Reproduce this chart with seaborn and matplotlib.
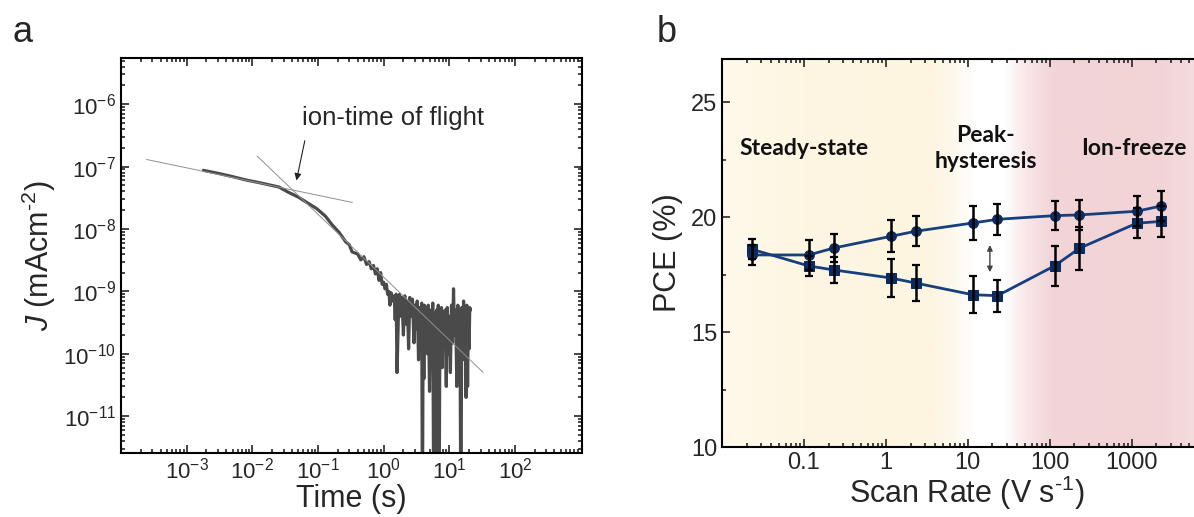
import numpy as np
import pandas as pd
import matplotlib
matplotlib.use("Agg")
import matplotlib.pyplot as plt
import matplotlib.ticker as mticker
import seaborn as sns

# ---------------- data ----------------
# panel a: transient current
time_s = [1.8e-3, 3.0e-3, 5.0e-3, 8.0e-3, 0.013, 0.0255, 0.035, 0.05, 0.07, 0.095, 0.13, 0.166, 0.21,
          0.265, 0.30, 0.33, 0.37, 0.40, 0.45, 0.50, 0.55, 0.60, 0.65, 0.70, 0.75, 0.80, 0.85, 0.90, 0.95,
          1.0, 1.05, 1.1, 1.15, 1.2, 1.25, 1.3, 1.38, 1.45, 1.5, 1.55, 1.6, 1.7, 1.75, 1.8, 1.9, 2.0,
          2.1, 2.2, 2.3, 2.4, 2.5, 2.6, 2.75, 2.9, 3.0, 3.1, 3.25, 3.4, 3.5, 3.65, 3.8, 3.9, 4.0,
          4.1, 4.2, 4.35, 4.5, 4.65, 4.8, 5.0, 5.2, 5.4, 5.6, 5.8, 6.0, 6.2, 6.4, 6.6, 6.8, 7.0,
          7.2, 7.4, 7.6, 7.8, 8.0, 8.3, 8.6, 9.0, 9.3, 9.6, 10.0, 10.4, 10.8, 11.2, 11.6, 12.0,
          12.5, 13.0, 13.5, 14.0, 14.5, 15.0, 15.5, 16.0, 16.5, 17.0, 17.5, 18.0, 18.5, 19.0,
          19.5, 20.0, 20.5, 21.0]
current_J = [8.7e-8, 7.8e-8, 6.9e-8, 6.1e-8, 5.5e-8, 4.7e-8, 3.9e-8, 3.25e-8, 2.6e-8, 2.13e-8, 1.6e-8, 1.15e-8, 8.8e-9,
             6.2e-9, 5.6e-9, 4.3e-9, 4.1e-9, 4.0e-9, 3.2e-9, 3.6e-9, 2.7e-9, 3.0e-9, 2.3e-9, 2.6e-9, 1.9e-9, 2.3e-9, 1.5e-9, 2.0e-9, 1.3e-9,
             1.4e-9, 1.1e-9, 1.3e-9, 9e-10, 1.0e-9, 6e-10, 9.5e-10, 7e-10, 8.5e-10, 3.5e-10, 9e-10, 5e-11, 7e-10, 9e-10, 4e-10, 8e-10, 2e-10,
             8.5e-10, 3e-10, 7e-10, 1.2e-10, 8e-10, 4e-10, 7.5e-10, 1.5e-10, 6e-10, 2.5e-10, 7e-10, 8e-11, 5.5e-10, 3e-10, 6.5e-10, 2e-13, 5e-10,
             4e-11, 6e-10, 2e-10, 5.5e-10, 1e-10, 6e-10, 2.5e-11, 5e-10, 1.5e-10, 6.5e-10, 2e-13, 4.5e-10, 2e-13, 5e-10, 8e-11, 6e-10, 2e-13,
             4e-10, 1.2e-10, 5.5e-10, 6e-11, 4.5e-10, 1.5e-10, 5e-10, 3e-11, 5.5e-10, 1e-10, 4e-10, 5e-11, 6e-10, 1.5e-10, 1.1e-9, 2e-10,
             5e-10, 3e-11, 6e-10, 1e-10, 5e-10, 2e-13, 5.5e-10, 8e-11, 7e-10, 2e-10, 5e-10, 2e-11, 6e-10, 3e-11,
             5e-10, 1.2e-10, 5.5e-10, 5e-10]
fit1_t = [2.45e-4, 0.333]
fit1_J = [1.3e-7, 2.66e-8]
fit2_t = [0.0118, 33.0]
fit2_J = [1.48e-7, 5.0e-11]

# panel b: PCE vs scan rate
scan_rate = [0.023, 0.115, 0.23, 1.15, 2.3, 11.5, 23, 115, 230, 1150, 2300]
pce_circle = [18.35, 18.35, 18.65, 19.16, 19.38, 19.74, 19.9, 20.06, 20.09, 20.25, 20.48]
err_circle = [0.44, 0.65, 0.62, 0.7, 0.66, 0.73, 0.67, 0.64, 0.64, 0.65, 0.65]
pce_square = [18.6, 17.87, 17.7, 17.35, 17.13, 16.62, 16.58, 17.88, 18.64, 19.73, 19.81]
err_square = [0.44, 0.45, 0.58, 0.82, 0.8, 0.8, 0.7, 0.88, 0.93, 0.66, 0.67]
region_labels = ["Steady-state", "Peak-\nhysteresis", "Ion-freeze"]

# ---------------- style ----------------
sns.set_style("ticks")
plt.rcParams["font.family"] = ["Liberation Sans", "DejaVu Sans"]
plt.rcParams["mathtext.fontset"] = "custom"
plt.rcParams["mathtext.rm"] = "Liberation Sans"
plt.rcParams["mathtext.it"] = "Liberation Sans:italic"
plt.rcParams["mathtext.bf"] = "Liberation Sans:bold"
plt.rcParams["axes.linewidth"] = 1.5

W, H = 1194, 517
fig = plt.figure(figsize=(W / 100, H / 100), dpi=100)
fig.patch.set_facecolor("white")


def frac(l, r, t, b):
    return [l / W, 1 - b / H, (r - l) / W, (b - t) / H]


# ---------------- panel a ----------------
axa = fig.add_axes(frac(121, 582, 58, 453))
dfa = pd.DataFrame({"t": time_s, "J": current_J})
sns.lineplot(data=dfa, x="t", y="J", sort=False, estimator=None, ax=axa,
             color="#4a4a4a", lw=2.3, zorder=2)
sns.lineplot(x=fit1_t, y=fit1_J, ax=axa, color="#909090", lw=0.7, zorder=3)
sns.lineplot(x=fit2_t, y=fit2_J, ax=axa, color="#909090", lw=0.7, zorder=3)
axa.set_xscale("log")
axa.set_yscale("log")
axa.set_xlim(1e-4, 1.05e3)
axa.set_ylim(10 ** -11.59, 10 ** -5.26)
axa.xaxis.set_major_locator(mticker.FixedLocator([1e-3, 1e-2, 1e-1, 1, 10, 100]))
axa.xaxis.set_minor_locator(mticker.LogLocator(base=10, subs=np.arange(2, 10), numticks=20))
axa.yaxis.set_major_locator(mticker.FixedLocator([1e-11, 1e-10, 1e-9, 1e-8, 1e-7, 1e-6]))
axa.yaxis.set_minor_locator(mticker.LogLocator(base=10, subs=np.arange(2, 10), numticks=20))
axa.xaxis.set_major_formatter(mticker.LogFormatterMathtext())
axa.yaxis.set_major_formatter(mticker.LogFormatterMathtext())
axa.xaxis.set_minor_formatter(mticker.NullFormatter())
axa.yaxis.set_minor_formatter(mticker.NullFormatter())
axa.tick_params(which="both", direction="in", top=True, right=True, width=1.2, labelsize=16)
axa.tick_params(which="major", length=6)
axa.tick_params(which="minor", length=3)
axa.set_xlabel("Time (s)", fontsize=22, labelpad=0)
axa.set_ylabel(r"$J$ (mAcm$^{\text{-}2}$)", fontsize=22, labelpad=4)
axa.text(0.058, 5.97e-7, "ion-time of flight", fontsize=18.5, ha="left", va="center")
axa.annotate("", xy=(0.047, 6.0e-8), xytext=(0.063, 2.6e-7),
             arrowprops=dict(arrowstyle="-|>", color="#222222", lw=0.8, mutation_scale=10,
                             shrinkA=0, shrinkB=0))
for s in axa.spines.values():
    s.set_color("black")

# ---------------- panel b ----------------
axb = fig.add_axes(frac(722, 1212, 59, 447))
axb.set_xscale("log")

# background gradient (style only)
stops = [(-2.0, (254, 249, 234)), (-1.0, (253, 246, 226)), (0.5, (253, 245, 224)),
         (0.8, (253, 248, 235)), (1.1, (255, 255, 255)), (1.45, (255, 255, 255)),
         (1.75, (247, 228, 230)), (2.05, (242, 213, 216)), (3.3, (242, 211, 214)),
         (3.98, (246, 224, 226))]
xs = np.linspace(-2, 3.98, 600)
sp = np.array([p for p, _ in stops])
cols = np.array([c for _, c in stops], dtype=float) / 255
img = np.stack([np.interp(xs, sp, cols[:, k]) for k in range(3)], axis=-1)[None, :, :]
axb.imshow(img, extent=[0, 1, 0, 1], transform=axb.transAxes, aspect="auto", zorder=0)
axb.set_xlim(1e-2, 10 ** 3.98)
axb.set_ylim(10, 26.87)

navy_line = "#173F7C"
navy_mk = "#0B2C60"
sns.lineplot(x=scan_rate, y=pce_circle, ax=axb, color=navy_line, lw=2.0, marker="o",
             markersize=7, markerfacecolor=navy_mk, markeredgecolor=navy_mk, zorder=3)
sns.lineplot(x=scan_rate, y=pce_square, ax=axb, color=navy_line, lw=2.0, marker="s",
             markersize=6.5, markerfacecolor=navy_mk, markeredgecolor=navy_mk, zorder=3)
axb.errorbar(scan_rate, pce_circle, yerr=err_circle, fmt="none", ecolor="black",
             elinewidth=1.8, capsize=3, capthick=1.6, zorder=4)
axb.errorbar(scan_rate, pce_square, yerr=err_square, fmt="none", ecolor="black",
             elinewidth=1.8, capsize=3, capthick=1.6, zorder=4)
axb.annotate("", xy=(18.6, 17.6), xytext=(18.6, 18.78),
             arrowprops=dict(arrowstyle="<|-|>", color="#444444", lw=1.0, mutation_scale=8,
                             shrinkA=0, shrinkB=0))

axb.xaxis.set_major_locator(mticker.FixedLocator([0.1, 1, 10, 100, 1000]))
axb.xaxis.set_major_formatter(mticker.FixedFormatter(["0.1", "1", "10", "100", "1000"]))
axb.xaxis.set_minor_locator(mticker.LogLocator(base=10, subs=np.arange(2, 10), numticks=20))
axb.xaxis.set_minor_formatter(mticker.NullFormatter())
axb.yaxis.set_major_locator(mticker.FixedLocator([10, 15, 20, 25]))
axb.yaxis.set_minor_locator(mticker.FixedLocator([12.5, 17.5, 22.5]))
axb.tick_params(which="both", direction="in", top=True, right=True, width=1.2, labelsize=17)
axb.tick_params(which="major", length=6)
axb.tick_params(which="minor", length=3)
axb.set_xlabel(r"Scan Rate (V s$^{\text{-}1}$)", fontsize=22, labelpad=0)
axb.set_ylabel("PCE (%)", fontsize=22, labelpad=6)
for s in axb.spines.values():
    s.set_color("black")

bold = dict(family=["Lato", "DejaVu Sans"], fontweight="bold", fontsize=16.5, color="#111111")
axb.text(0.1, 22.96, region_labels[0], ha="center", va="center", **bold)
axb.text(16.6, 22.98, region_labels[1], ha="center", va="center", multialignment="center",
         linespacing=1.25, **bold)
axb.text(1070, 22.96, region_labels[2], ha="center", va="center", **bold)

# panel letters
fig.text(13 / W, 1 - 42 / H, "a", fontsize=26, ha="left", va="baseline")
fig.text(657 / W, 1 - 42 / H, "b", fontsize=26, ha="left", va="baseline")

fig.savefig("out.png", dpi=100)
